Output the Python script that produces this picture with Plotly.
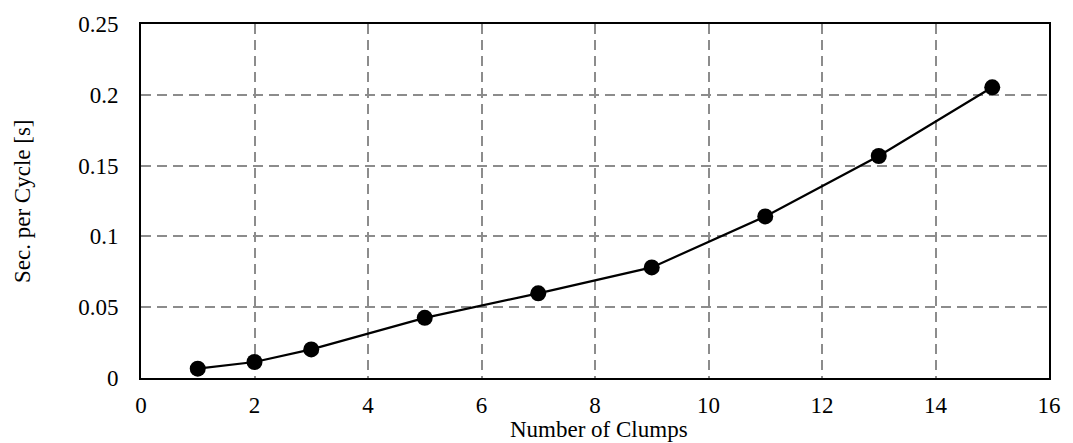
import plotly.graph_objects as go

# Timing measurements: cycle time versus clump count
clumps = [1, 2, 3, 5, 7, 9, 11, 13, 15]
sec_per_cycle = [0.0066, 0.0113, 0.0202, 0.0425, 0.0598, 0.0781, 0.1141, 0.1568, 0.2053]

x_ticks = [0, 2, 4, 6, 8, 10, 12, 14, 16]
y_ticks = [0, 0.05, 0.1, 0.15, 0.2, 0.25]
y_tick_text = ["0", "0.05", "0.1", "0.15", "0.2", "0.25"]

font_family = "Liberation Serif, Times New Roman, serif"
text_size = 23

fig = go.Figure()
fig.add_trace(go.Scatter(
    x=clumps, y=sec_per_cycle, mode="lines+markers",
    line=dict(color="black", width=2.2),
    marker=dict(color="black", size=16),
    showlegend=False,
))

axis_common = dict(
    showline=True, linecolor="black", linewidth=2, mirror=True,
    showgrid=True, gridcolor="#8c8c8c", gridwidth=1.6, griddash="10px,6px",
    zeroline=False, ticks="",
    tickfont=dict(family=font_family, size=text_size, color="black"),
)

fig.update_xaxes(range=[0, 16], tickvals=x_ticks, ticklabelstandoff=5, **axis_common)
fig.update_yaxes(range=[0, 0.25], tickvals=y_ticks, ticktext=y_tick_text,
                 ticklabelstandoff=16, **axis_common)

# Axis titles placed as annotations so they can sit close to the tick labels
fig.add_annotation(
    text="Number of Clumps", xref="paper", yref="paper", x=0.5, y=0,
    xanchor="center", yanchor="middle", yshift=-51, xshift=4, showarrow=False,
    font=dict(family=font_family, size=text_size, color="black"),
)
fig.add_annotation(
    text="Sec. per Cycle [s]", xref="paper", yref="paper", x=0, y=0.5,
    xanchor="center", yanchor="middle", xshift=-119, textangle=-90,
    showarrow=False,
    font=dict(family=font_family, size=text_size, color="black"),
)

fig.update_layout(
    width=1073, height=443,
    margin=dict(l=141, r=16, t=23, b=65),
    plot_bgcolor="white", paper_bgcolor="white",
)

fig.write_html("out.html")
